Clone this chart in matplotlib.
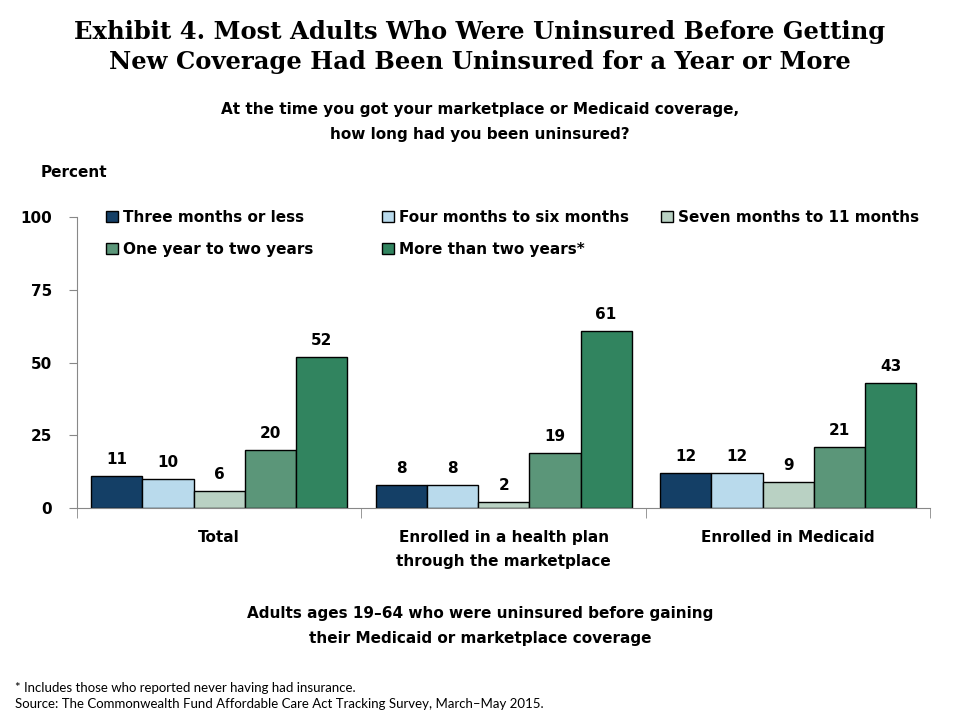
import numpy as np
import matplotlib.pyplot as plt
from matplotlib.legend import Legend

# ----------------------------
# Data
# ----------------------------
groups = ["Total", "Enrolled in a health plan\nthrough the marketplace", "Enrolled in Medicaid"]
series = ["Three months or less", "Four months to six months", "Seven months to 11 months",
          "One year to two years", "More than two years*"]
three_or_less = [11, 8, 12]
four_to_six = [10, 8, 12]
seven_to_11 = [6, 2, 9]
one_to_two = [20, 19, 21]
over_two = [52, 61, 43]
colors = ["#143F66", "#B9DAEC", "#B9D1C3", "#5B9679", "#31845F"]

values = [three_or_less, four_to_six, seven_to_11, one_to_two, over_two]

plt.rcParams['font.family'] = ['DejaVu Sans']
FS = 11

fig = plt.figure(figsize=(9.6, 7.2), dpi=100)
ax = fig.add_axes([0.0802, 0.2944, 0.889, 0.4042])

x = np.arange(len(groups))
w = 0.18
bars = []
for k, (vals, col) in enumerate(zip(values, colors)):
    pos = x + (k - 2) * w
    b = ax.bar(pos, vals, width=w, color=col, edgecolor="black", linewidth=1, label=series[k])
    bars.append(b)
    for p, v in zip(pos, vals):
        ax.text(p, v + 3, str(v), ha="center", va="bottom", fontsize=FS, fontweight="bold")

ax.set_xlim(-0.5, len(groups) - 0.5)
ax.set_ylim(0, 100)
ax.set_yticks([0, 25, 50, 75, 100])
ax.set_yticklabels(["0", "25", "50", "75", "100"], fontsize=FS, fontweight="bold")
ax.set_xticks(x)
ax.set_xticklabels(groups, fontsize=FS, fontweight="bold", linespacing=1.75)
ax.tick_params(axis="x", length=0, pad=16)
ax.set_xticks(np.arange(-0.5, len(groups)), minor=True)
ax.tick_params(axis="x", which="minor", length=7, color="#888888", direction="out")
ax.tick_params(axis="y", length=6, color="#888888", direction="out", pad=12)
for s in ["top", "right"]:
    ax.spines[s].set_visible(False)
ax.spines["left"].set_color("#888888")
ax.spines["bottom"].set_color("#888888")

# legend: three columns at fixed positions, filled row by row
columns = [[0, 3], [1, 4], [2]]
col_x = [0.027, 0.3506, 0.6776]
for idx, cx in zip(columns, col_x):
    leg = Legend(ax, [bars[i] for i in idx], [series[i] for i in idx],
                 loc="upper left", bbox_to_anchor=(cx, 1.045), frameon=False,
                 fontsize=FS, handlelength=0.75, handleheight=0.75, handletextpad=0.35,
                 labelspacing=1.1, borderaxespad=0)
    for t in leg.get_texts():
        t.set_fontweight("bold")
    ax.add_artist(leg)

fig.text(0.5, 0.972, "Exhibit 4. Most Adults Who Were Uninsured Before Getting\nNew Coverage Had Been Uninsured for a Year or More",
         ha="center", va="top", fontsize=17.5, fontweight="bold", family="DejaVu Serif", linespacing=1.32)
fig.text(0.5, 0.858, "At the time you got your marketplace or Medicaid coverage,\nhow long had you been uninsured?",
         ha="center", va="top", fontsize=FS, fontweight="bold", linespacing=1.8)
fig.text(0.042, 0.761, "Percent", ha="left", va="center", fontsize=FS, fontweight="bold")
fig.text(0.5, 0.158, "Adults ages 19\u201364 who were uninsured before gaining\ntheir Medicaid or marketplace coverage",
         ha="center", va="top", fontsize=FS, fontweight="bold", linespacing=1.8)
fig.text(0.016, 0.034, "* Includes those who reported never having had insurance.\n"
         "Source: The Commonwealth Fund Affordable Care Act Tracking Survey, March\u2013May 2015.",
         ha="left", va="center", fontsize=9.5, linespacing=1.4, family="Lato")

fig.savefig("out.png", dpi=100)
